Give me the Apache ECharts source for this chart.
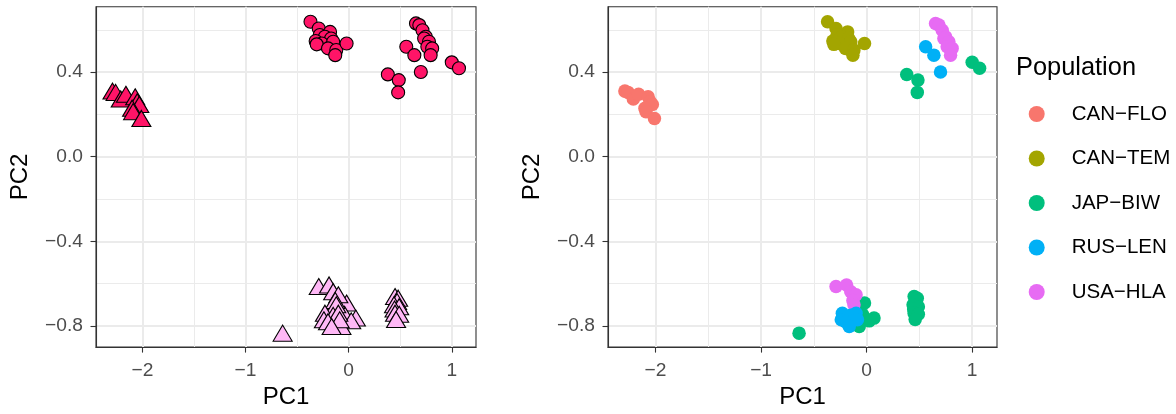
<!DOCTYPE html>
<html>
<head>
<meta charset="utf-8">
<title>PCA</title>
<script src="https://cdn.jsdelivr.net/npm/echarts@6/dist/echarts.min.js"></script>
<style>
html,body{margin:0;padding:0;background:#fff;}
#main{width:1176px;height:414px;}
</style>
</head>
<body>
<div id="main"></div>
<script>
// populations (legend order)
var pops = ['CAN-FLO', 'CAN-TEM', 'JAP-BIW', 'RUS-LEN', 'USA-HLA'];
var popColors = ['#F8766D', '#A3A500', '#00BF7D', '#00B0F6', '#E76BF3'];

// PC1 / PC2
var canFlo = [[-2.29,0.31],[-2.26,0.304],[-2.21,0.273],[-2.16,0.295],[-2.07,0.283],[-2.05,0.26],[-2.03,0.247],[-2.10,0.229],[-2.09,0.213],[-2.01,0.181]];
var canTem = [[-0.37,0.638],[-0.29,0.606],[-0.28,0.575],[-0.18,0.59],[-0.23,0.567],[-0.17,0.559],[-0.32,0.547],[-0.26,0.535],[-0.31,0.531],[-0.15,0.543],[-0.20,0.512],[-0.12,0.504],[-0.02,0.535],[-0.13,0.48]];
var japBiwUp = [[0.38,0.389],[0.486,0.362],[0.48,0.304],[1.0,0.446],[1.07,0.418]];
var japBiwLow = [[-0.64,-0.834],[-0.02,-0.692],[-0.04,-0.745],[0.07,-0.763],[0.025,-0.776],[-0.07,-0.803],
  [0.45,-0.661],[0.48,-0.669],[0.47,-0.685],[0.44,-0.70],[0.49,-0.709],[0.445,-0.72],[0.45,-0.74],[0.49,-0.745],[0.46,-0.77]];
var rusLenUp = [[0.559,0.52],[0.637,0.48],[0.70,0.40]];
var rusLenLow = [[-0.23,-0.74],[-0.15,-0.75],[-0.10,-0.74],[-0.24,-0.771],[-0.20,-0.78],[-0.087,-0.771],[-0.165,-0.803]];
var usaHlaUp = [[0.653,0.63],[0.685,0.622],[0.716,0.598],[0.748,0.567],[0.732,0.559],[0.779,0.543],[0.763,0.52],[0.81,0.512],[0.795,0.48]];
var usaHlaLow = [[-0.29,-0.614],[-0.19,-0.606],[-0.15,-0.638],[-0.10,-0.653],[-0.13,-0.68],[-0.12,-0.70]];

// axes
var xRange = [-2.45, 1.235];
var yRange = [-0.9, 0.709];
var xTicks = [-2, -1, 0, 1];
var xMinorTicks = [-1.5, -0.5, 0.5];
var yTicks = [-0.8, -0.4, 0, 0.4];
var yMinorTicks = [-0.6, -0.2, 0.2, 0.6];

var FONT = 'Liberation Sans, Arial, sans-serif';
var minus = function(s){ return s.replace('-', '\u2212'); };

function majorX(gi){
  return {
    type:'value', gridIndex:gi, min:xRange[0], max:xRange[1],
    name:'PC1', nameLocation:'middle', nameGap:35,
    nameTextStyle:{fontSize:24, color:'#000', fontFamily:FONT},
    axisLine:{show:true, onZero:false, lineStyle:{color:'#333', width:1.1}},
    axisTick:{show:true, length:5.5, customValues:xTicks, lineStyle:{color:'#333', width:1.1}},
    axisLabel:{customValues:xTicks, margin:14, fontSize:19.2, color:'#4D4D4D', fontFamily:FONT,
      formatter:function(v){ return minus(String(v)); }},
    splitLine:{show:true, lineStyle:{color:'#EBEBEB', width:2}}
  };
}
function minorX(gi){
  return {
    type:'value', gridIndex:gi, min:xRange[0], max:xRange[1],
    axisLine:{show:false, onZero:false}, axisLabel:{show:false},
    axisTick:{show:false, customValues:xMinorTicks},
    splitLine:{show:true, lineStyle:{color:'#EBEBEB', width:1}}
  };
}
function majorY(gi){
  return {
    type:'value', gridIndex:gi, min:yRange[0], max:yRange[1],
    name:'PC2', nameLocation:'middle', nameGap:64,
    nameTextStyle:{fontSize:24, color:'#000', fontFamily:FONT},
    axisLine:{show:true, onZero:false, lineStyle:{color:'#333', width:1.1}},
    axisTick:{show:true, length:5.5, customValues:yTicks, lineStyle:{color:'#333', width:1.1}},
    axisLabel:{customValues:yTicks, margin:13, fontSize:19.2, color:'#4D4D4D', fontFamily:FONT,
      formatter:function(v){ return minus(v.toFixed(1)); }},
    splitLine:{show:true, lineStyle:{color:'#EBEBEB', width:2}}
  };
}
function minorY(gi){
  return {
    type:'value', gridIndex:gi, min:yRange[0], max:yRange[1],
    axisLine:{show:false, onZero:false}, axisLabel:{show:false},
    axisTick:{show:false, customValues:yMinorTicks},
    splitLine:{show:true, lineStyle:{color:'#EBEBEB', width:1}}
  };
}

var series = [];
// left panel : shape / fill
var upRed = canTem.concat(japBiwUp, rusLenUp, usaHlaUp);
var lowPink = japBiwLow.concat(usaHlaLow, rusLenLow);
series.push({type:'scatter', name:'tri-red', xAxisIndex:0, yAxisIndex:0, data:canFlo,
  symbol:'triangle', symbolSize:[19,16], itemStyle:{color:'#FF1467', borderColor:'#000', borderWidth:1.1, opacity:1}});
series.push({type:'scatter', name:'circle-red', xAxisIndex:0, yAxisIndex:0, data:upRed,
  symbol:'circle', symbolSize:13, itemStyle:{color:'#FF1467', borderColor:'#000', borderWidth:1.1, opacity:1}});
series.push({type:'scatter', name:'tri-pink', xAxisIndex:0, yAxisIndex:0, data:lowPink,
  symbol:'triangle', symbolSize:[19,16], itemStyle:{color:'#FFB8F6', borderColor:'#000', borderWidth:1.1, opacity:1}});

// right panel : by population
var popData = [canFlo, canTem, japBiwUp.concat(japBiwLow), rusLenUp.concat(rusLenLow), usaHlaUp.concat(usaHlaLow)];
var drawOrder = [0, 1, 2, 4, 3];
drawOrder.forEach(function(i){
  series.push({type:'scatter', name:pops[i], xAxisIndex:2, yAxisIndex:2, data:popData[i],
    symbol:'circle', symbolSize:13.5, itemStyle:{color:popColors[i], opacity:1}});
});

var myChart = echarts.init(document.getElementById('main'));
myChart.setOption({
  backgroundColor:'#fff',
  animation:false,
  title:{text:'Population', left:1016, top:55, padding:0,
    textStyle:{fontSize:25.4, fontWeight:'normal', color:'#000', fontFamily:FONT}},
  legend:{
    data:pops.map(function(p, i){ return {name:p, itemStyle:{color:popColors[i]}}; }),
    orient:'vertical', left:1028.7, top:103.5, padding:0,
    icon:'circle', itemWidth:16, itemHeight:16, itemGap:23.5,
    selectedMode:false,
    formatter:function(n){ return minus(n); },
    textStyle:{fontSize:20.5, color:'#000', fontFamily:FONT, lineHeight:20, padding:[0,0,0,22]}
  },
  grid:[
    {left:96, top:6.7, width:380, height:340.6, show:true, borderColor:'#333', borderWidth:1.1, backgroundColor:'#fff'},
    {left:608, top:6.7, width:389, height:340.6, show:true, borderColor:'#333', borderWidth:1.1, backgroundColor:'#fff'}
  ],
  xAxis:[majorX(0), minorX(0), majorX(1), minorX(1)],
  yAxis:[majorY(0), minorY(0), majorY(1), minorY(1)],
  series:series
});
</script>
</body>
</html>
